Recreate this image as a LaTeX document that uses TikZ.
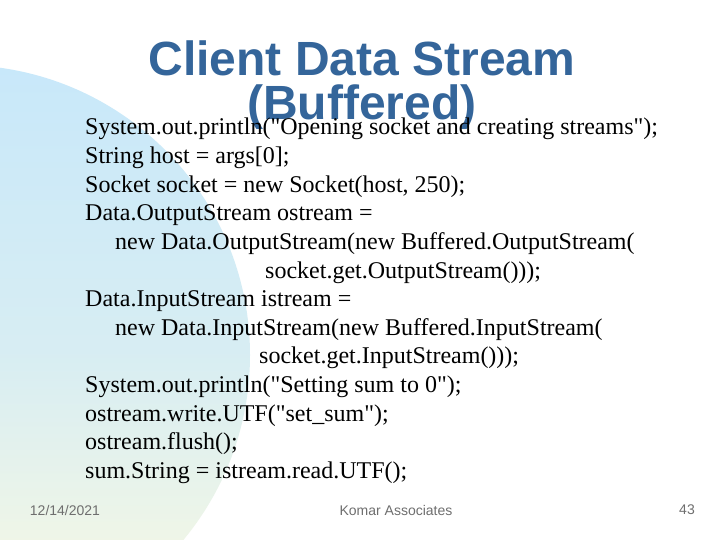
\documentclass[tikz,border=0pt]{standalone}
\usepackage{fontspec}
\setmainfont{Liberation Serif}
\newfontfamily\headfont{Liberation Sans}
\definecolor{titleblue}{RGB}{52,101,154}
\definecolor{blobblue}{RGB}{200,232,250}
\definecolor{blobyellow}{RGB}{252,250,225}
\definecolor{footgray}{RGB}{110,110,110}
\newcommand{\dq}{\textquotedbl}
\tikzset{
	code/.style={anchor=base west, inner sep=0pt, font=\fontsize{24}{24}\selectfont},
	foot/.style={inner sep=0pt, text=footgray, font=\headfont\fontsize{14}{14}\selectfont},
}
\begin{document}
\begin{tikzpicture}[x=1pt,y=-1pt]
	\useasboundingbox (0,0) rectangle (720,540);
	\fill[white] (0,0) rectangle (720,540);
	\begin{scope}
		\clip (0,0) rectangle (720,540);
		\shade[top color=blobblue, bottom color=blobyellow, middle color=blobblue!70!blobyellow]
			(-40,355) circle[radius=290];
	\end{scope}
	\node[inner sep=0pt, align=center, text=titleblue,
		font=\headfont\bfseries\fontsize{48}{44}\selectfont] (title) at (362,85)
		{Client Data Stream\\(Buffered)};
	% code lines
	\foreach \txt [count=\i from 0] in {
		{System.out.println(\dq Opening socket and creating streams\dq);},
		{String host = args[0];},
		{Socket socket = new Socket(host, 250);},
		{Data.OutputStream ostream =},
		{\hspace*{30pt}new Data.OutputStream(new Buffered.OutputStream(},
		{\hspace*{180pt}socket.get.OutputStream()));},
		{Data.InputStream istream =},
		{\hspace*{30pt}new Data.InputStream(new Buffered.InputStream(},
		{\hspace*{174pt}socket.get.InputStream()));},
		{System.out.println(\dq Setting sum to 0\dq);},
		{ostream.write.UTF(\dq set\_sum\dq);},
		{ostream.flush();},
		{sum.String = istream.read.UTF();}}
		\node[code] (line\i) at (85,{135+28.6*\i}) {\txt};
	\node[foot] (date) at (65,510) {12/14/2021};
	\node[foot] (author) at (396,510) {Komar Associates};
	\node[foot] (page) at (687,510) {43};
\end{tikzpicture}
\end{document}
